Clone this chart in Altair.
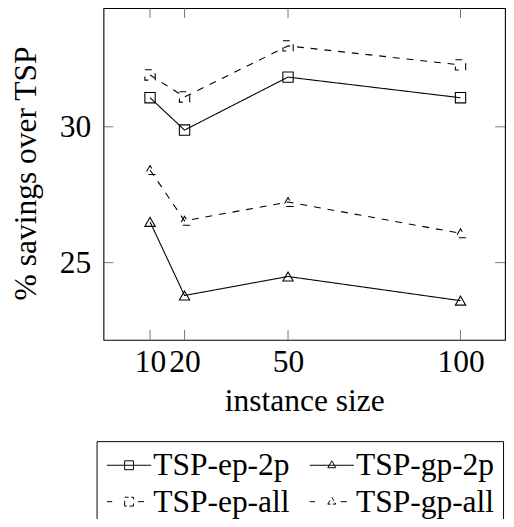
import altair as alt
import pandas as pd

# ---- data ----
sizes = [10, 20, 50, 100]
series_names = ["TSP-ep-2p", "TSP-gp-2p", "TSP-ep-all", "TSP-gp-all"]
ep_2p = [31.07, 29.88, 31.83, 31.07]
gp_2p = [26.50, 23.79, 24.49, 23.60]
ep_all = [31.91, 31.10, 32.98, 32.28]
gp_all = [28.41, 26.54, 27.23, 26.08]
x_ticks = [10, 20, 50, 100]
y_ticks = [25, 30]
# legend fills column by column
legend_order = ["TSP-ep-2p", "TSP-ep-all", "TSP-gp-2p", "TSP-gp-all"]

series_values = {"TSP-ep-2p": ep_2p, "TSP-gp-2p": gp_2p,
                 "TSP-ep-all": ep_all, "TSP-gp-all": gp_all}
series_marker = {"TSP-ep-2p": "square", "TSP-gp-2p": "triangle-up",
                 "TSP-ep-all": "square", "TSP-gp-all": "triangle-up"}

rows = []
for name in series_names:
    for s, v in zip(sizes, series_values[name]):
        rows.append({"size": s, "value": v, "series": name,
                     "marker": series_marker[name]})
df = pd.DataFrame(rows)
xt = pd.DataFrame({"t": x_ticks})
yt = pd.DataFrame({"t": y_ticks})

FONT = "Liberation Serif"
FS = 32
W, H = 408, 337

dash_range = [[1, 0], [1, 0], [7, 7], [7, 7]]

# legend symbols: line + marker (dashed variants drawn as segments)
sym_ep_2p = "M-5,0H5M-1,-1H1V1H-1Z"
sym_gp_2p = "M-5,0H5M0,-1L0.9,0.55H-0.9Z"
sym_ep_all = ("M-5,0H-3.8M2,0H3.4"
              "M-1,1V-0.2M-1,-1H-0.1M0.5,-1H1V-0.5M1,0.4V1H0.1M-0.5,1H-1")
sym_gp_all = ("M-5,0H-3.8M2,0H3.4"
              "M0,-1L0.5,-0.15M0.7,0.2L0.9,0.55H0.2M-0.3,0.55H-0.9L-0.4,-0.3")
sym_by_series = {"TSP-ep-2p": sym_ep_2p, "TSP-gp-2p": sym_gp_2p,
                 "TSP-ep-all": sym_ep_all, "TSP-gp-all": sym_gp_all}

xscale = alt.Scale(domain=[-3.5, 112.9], nice=False, zero=False)
yscale = alt.Scale(domain=[22.16, 34.37], nice=False, zero=False)

xaxis = alt.Axis(values=x_ticks, title="instance size", format="d",
                 labelFont=FONT, labelFontSize=FS, labelColor="black",
                 labelPadding=32, labelBaseline="alphabetic",
                 ticks=False, tickSize=0, domain=False, grid=False,
                 labelOverlap=False, labelFlush=False,
                 titleFont=FONT, titleFontSize=FS, titleFontWeight="normal",
                 titleColor="black", titleY=72, titleBaseline="alphabetic")
yaxis = alt.Axis(values=y_ticks, title="% savings over TSP", format="d",
                 labelFont=FONT, labelFontSize=FS, labelColor="black",
                 labelPadding=13, labelBaseline="middle",
                 ticks=False, tickSize=0, domain=False, grid=False,
                 labelOverlap=False, labelFlush=False,
                 titleFont=FONT, titleFontSize=FS, titleFontWeight="normal",
                 titleColor="black", titleX=-69, titleY=167.5,
                 titleAngle=270, titleAlign="center",
                 titleBaseline="alphabetic")

X = alt.X("size:Q", scale=xscale, axis=xaxis)
Y = alt.Y("value:Q", scale=yscale, axis=yaxis)
dash = alt.StrokeDash("series:N", scale=alt.Scale(domain=series_names,
                                                 range=dash_range),
                      legend=None)

lines = alt.Chart(df).mark_line(color="black", strokeWidth=1.1).encode(
    x=X, y=Y, strokeDash=dash, detail="series:N")

points = alt.Chart(df).mark_point(filled=False, color="black", opacity=1,
                                  strokeWidth=1.1, size=110).encode(
    x=X, y=Y, strokeDash=dash,
    shape=alt.Shape("marker:N", scale=None, legend=None))

NB = "\u00a0" * 14
legend_layer = alt.Chart(df).mark_point(
    filled=False, color="black", opacity=0, strokeWidth=1).encode(
    x=X, y=Y,
    shape=alt.Shape("series:N",
                    scale=alt.Scale(domain=legend_order,
                                    range=[sym_by_series[n]
                                           for n in legend_order]),
                    legend=alt.Legend(
                        orient="none", legendX=-7, legendY=440,
                        columns=2, title=None,
                        labelFont=FONT, labelFontSize=FS, labelColor="black",
                        labelLimit=0,
                        # invisible trailing blanks widen the box past the
                        # right edge, as in the reference where it is cut off
                        labelExpr="indexof(datum.label, 'gp') >= 0 ? "
                                  "datum.label + '" + NB + "' : datum.label",
                        symbolSize=81, symbolStrokeWidth=1,
                        symbolStrokeColor="black",
                        symbolFillColor="transparent",
                        symbolOpacity=1,
                        symbolOffset=8.5, labelOffset=8.5,
                        padding=8.5, rowPadding=5, columnPadding=18,
                        strokeColor="black", fillColor="white",
                        cornerRadius=0)))

xticks_top = alt.Chart(xt).mark_rule(color="#555", strokeWidth=0.8).encode(
    x=alt.X("t:Q", scale=xscale, axis=xaxis), y=alt.value(0), y2=alt.value(10))
xticks_bot = alt.Chart(xt).mark_rule(color="#555", strokeWidth=0.8).encode(
    x=alt.X("t:Q", scale=xscale, axis=xaxis), y=alt.value(H - 10),
    y2=alt.value(H))
yticks_l = alt.Chart(yt).mark_rule(color="#555", strokeWidth=0.8).encode(
    y=alt.Y("t:Q", scale=yscale, axis=yaxis), x=alt.value(0), x2=alt.value(10))
yticks_r = alt.Chart(yt).mark_rule(color="#555", strokeWidth=0.8).encode(
    y=alt.Y("t:Q", scale=yscale, axis=yaxis), x=alt.value(W - 10),
    x2=alt.value(W))

chart = alt.layer(
    xticks_top, xticks_bot, yticks_l, yticks_r, lines, points, legend_layer
).resolve_scale(shape="independent").properties(
    width=W, height=H,
    autosize=alt.AutoSizeParams(type="none"),
    padding={"left": 97, "top": -4, "right": 1, "bottom": 178},
).configure_view(stroke="black", strokeWidth=1.1)

chart.save("out.html", embed_options={"renderer": "svg", "actions": False})
